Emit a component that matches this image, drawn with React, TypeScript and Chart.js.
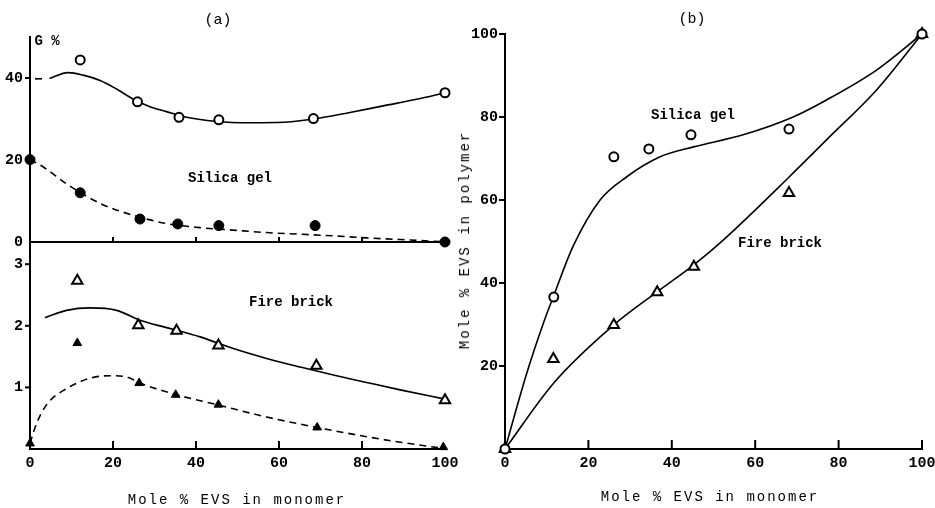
import React, { useEffect, useRef } from "react";
import { Chart, registerables } from "chart.js";
Chart.register(...registerables);

const W = 935;
const H = 508;
const FONT = "'Liberation Mono', 'DejaVu Sans Mono', 'Courier New', monospace";

// ---------- Panel (a), upper: Silica gel (G %) ----------
const aSilicaOpenX = [12.1, 25.9, 35.9, 45.5, 68.3, 100];
const aSilicaOpenY = [44.4, 34.2, 30.4, 29.8, 30.1, 36.4];
const aSilicaFilledX = [0, 12.1, 26.5, 35.6, 45.5, 68.7, 100];
const aSilicaFilledY = [20.1, 12.0, 5.6, 4.4, 4.0, 4.0, 0];
const aSilicaSolidX = [4.7, 9.2, 12.8, 16.9, 20.9, 24.9, 28.9, 32.9, 36.9, 45, 53, 61, 68.3, 77.1, 85.1, 93.2, 100];
const aSilicaSolidY = [39.9, 41.3, 40.7, 39.4, 37.3, 34.8, 33.0, 31.8, 30.6, 29.4, 29.1, 29.2, 30.0, 31.6, 33.2, 34.8, 36.4];
const aSilicaStubX = [1.2, 2.9];
const aSilicaStubY = [39.8, 39.8];
const aSilicaDashX = [0, 3.2, 8.8, 16.9, 24.9, 32.9, 41, 48.9, 57, 65, 73.1, 81.1, 89.2, 97.2, 100];
const aSilicaDashY = [20.1, 18.3, 14.2, 9.4, 6.5, 4.5, 3.5, 2.9, 2.3, 1.9, 1.5, 1.0, 0.6, 0.2, 0.1];
const aUpperYTicks = [0, 20, 40];
const aUpperXMarks = [20, 40, 60, 80];

// ---------- Panel (a), lower: Fire brick ----------
const aBrickOpenX = [11.4, 26.1, 35.3, 45.4, 69.0, 100];
const aBrickOpenY = [2.73, 2.01, 1.92, 1.68, 1.35, 0.79];
const aBrickFilledX = [0, 11.4, 26.3, 35.1, 45.4, 69.2, 99.6];
const aBrickFilledY = [0.09, 1.72, 1.07, 0.88, 0.72, 0.35, 0.03];
const aBrickSolidX = [3.6, 8.8, 14.5, 20.9, 26.5, 32.9, 41, 49, 57, 65.1, 73.1, 81.1, 89.2, 100];
const aBrickSolidY = [2.13, 2.25, 2.29, 2.25, 2.09, 1.97, 1.82, 1.63, 1.47, 1.33, 1.2, 1.08, 0.96, 0.81];
const aBrickDashX = [0, 1.5, 4, 8.8, 14.5, 19.3, 23.3, 26.5, 35.3, 45, 57, 69.1, 81.1, 89.2, 99.6];
const aBrickDashY = [0.09, 0.4, 0.72, 0.98, 1.15, 1.19, 1.17, 1.07, 0.88, 0.72, 0.52, 0.35, 0.2, 0.11, 0.01];
const aLowerYTicks = [1, 2, 3];
const aLowerXTicks = [0, 20, 40, 60, 80, 100];
const aLowerXMarks = [20, 40, 60, 80];

// ---------- Panel (b) ----------
const bSilicaX = [0, 11.7, 26.1, 34.5, 44.6, 68.1, 100];
const bSilicaY = [0, 36.6, 70.4, 72.3, 75.7, 77.1, 100];
const bBrickX = [0, 11.6, 26.1, 36.5, 45.3, 68.1, 100];
const bBrickY = [0, 21.7, 29.9, 37.8, 43.9, 61.7, 100];
const bSilicaCurveX = [0, 5.2, 9.2, 11.7, 16.4, 22.8, 29.2, 37.2, 45.2, 57.1, 69.1, 77.1, 89.1, 100];
const bSilicaCurveY = [0, 18.2, 30.3, 37, 49, 60, 65.6, 70.4, 72.8, 75.7, 80, 84.1, 91.3, 100];
const bBrickCurveX = [0, 11.6, 26.1, 36.4, 45.2, 52.4, 68.2, 77.1, 89.1, 100];
const bBrickCurveY = [0, 15.8, 29.9, 37.8, 44.3, 50.4, 65.6, 74.5, 86.5, 100];
const bYTicks = [20, 40, 60, 80, 100];
const bXTicks = [0, 20, 40, 60, 80, 100];
const bXMarks = [20, 40, 60, 80, 100];

const pts = (xs: number[], ys: number[]) => xs.map((x, i) => ({ x, y: ys[i] }));

const markers = (xs: number[], ys: number[], style: string, filled: boolean, r: number) => ({
  data: pts(xs, ys),
  showLine: false,
  pointStyle: style,
  pointRadius: r,
  pointHoverRadius: r,
  pointBackgroundColor: filled ? "#000" : "#fff",
  pointBorderColor: "#000",
  pointBorderWidth: filled ? 1 : 2,
  clip: false,
  order: 0,
});

const curve = (xs: number[], ys: number[], dashed: boolean) => ({
  data: pts(xs, ys),
  showLine: true,
  pointRadius: 0,
  pointHitRadius: 0,
  borderColor: "#000",
  borderWidth: 1.6,
  borderDash: dashed ? [7, 5] : [],
  cubicInterpolationMode: "monotone",
  fill: false,
  clip: false,
  order: 1,
});

const tickMarkPlugin = {
  id: "tickMarks",
  afterDatasetsDraw(chart: any, _args: any, opts: any) {
    const { ctx, chartArea, scales } = chart;
    ctx.save();
    ctx.strokeStyle = "#000";
    ctx.lineWidth = 2;
    (opts.x || []).forEach((v: number) => {
      const px = scales.x.getPixelForValue(v);
      ctx.beginPath();
      ctx.moveTo(px, chartArea.bottom);
      ctx.lineTo(px, chartArea.bottom - opts.xLen);
      ctx.stroke();
    });
    (opts.y || []).forEach((v: number) => {
      const py = scales.y.getPixelForValue(v);
      ctx.beginPath();
      ctx.moveTo(chartArea.left, py);
      ctx.lineTo(chartArea.left - opts.yLen, py);
      ctx.stroke();
    });
    ctx.restore();
  },
};

type Cfg = {
  datasets: any[];
  padding: { left: number; top: number; right: number; bottom: number };
  yWidth: number;
  xHeight: number;
  xMin: number; xMax: number; yMin: number; yMax: number;
  yTicks: number[];
  xTicks: number[] | null;
  xMarks: number[]; xLen: number;
  yMarks: number[]; yLen: number;
};

function makeConfig(c: Cfg): any {
  const tickFont = { family: FONT, size: 15, weight: "bold" as const };
  return {
    type: "scatter",
    data: { datasets: c.datasets },
    plugins: [tickMarkPlugin],
    options: {
      responsive: false,
      animation: false,
      events: [],
      layout: { padding: c.padding },
      plugins: {
        legend: { display: false },
        tooltip: { enabled: false },
        tickMarks: { x: c.xMarks, xLen: c.xLen, y: c.yMarks, yLen: c.yLen },
      },
      scales: {
        x: {
          type: "linear",
          min: c.xMin,
          max: c.xMax,
          grid: { display: false, drawTicks: false },
          border: { display: true, color: "#000", width: 2 },
          ticks: {
            display: !!c.xTicks,
            font: tickFont,
            color: "#000",
            padding: 5,
            maxRotation: 0,
          },
          afterBuildTicks: (s: any) => {
            s.ticks = (c.xTicks || []).map((v) => ({ value: v }));
          },
          afterFit: (s: any) => {
            s.height = c.xHeight;
            s.paddingLeft = 0;
            s.paddingRight = 0;
          },
        },
        y: {
          type: "linear",
          min: c.yMin,
          max: c.yMax,
          grid: { display: false, drawTicks: false },
          border: { display: true, color: "#000", width: 2 },
          ticks: { font: tickFont, color: "#000", padding: 7 },
          afterBuildTicks: (s: any) => {
            s.ticks = c.yTicks.map((v) => ({ value: v }));
          },
          afterFit: (s: any) => {
            s.width = c.yWidth;
            s.paddingTop = 0;
            s.paddingBottom = 0;
          },
        },
      },
    },
  };
}

function ChartCanvas({ cfg }: { cfg: Cfg }) {
  const ref = useRef<HTMLCanvasElement | null>(null);
  useEffect(() => {
    if (!ref.current) return;
    const chart = new Chart(ref.current, makeConfig(cfg));
    return () => chart.destroy();
  }, []);
  return (
    <canvas
      ref={ref}
      width={W}
      height={H}
      style={{ position: "absolute", left: 0, top: 0, width: W, height: H }}
    />
  );
}

function Label(p: { x: number; y: number; text: string; size: number; bold?: boolean; spacing?: number; rotate?: boolean }) {
  return (
    <div
      style={{
        position: "absolute",
        left: p.x,
        top: p.y,
        transform: `translate(-50%, -50%)${p.rotate ? " rotate(-90deg)" : ""}`,
        fontFamily: FONT,
        fontSize: p.size,
        fontWeight: p.bold ? "bold" : "normal",
        letterSpacing: p.spacing ? `${p.spacing}px` : undefined,
        whiteSpace: "nowrap",
        color: "#000",
        lineHeight: 1,
      }}
    >
      {p.text}
    </div>
  );
}

const upperCfg: Cfg = {
  datasets: [
    markers(aSilicaOpenX, aSilicaOpenY, "circle", false, 4.5),
    markers(aSilicaFilledX, aSilicaFilledY, "circle", true, 5),
    curve(aSilicaSolidX, aSilicaSolidY, false),
    curve(aSilicaStubX, aSilicaStubY, false),
    curve(aSilicaDashX, aSilicaDashY, true),
  ],
  padding: { left: 0, top: 37, right: W - 445, bottom: H - 242 },
  yWidth: 30,
  xHeight: 0,
  xMin: 0, xMax: 100, yMin: 0, yMax: 50,
  yTicks: aUpperYTicks,
  xTicks: null,
  xMarks: aUpperXMarks, xLen: 5,
  yMarks: [20, 40], yLen: 5,
};

const lowerCfg: Cfg = {
  datasets: [
    markers(aBrickOpenX, aBrickOpenY, "triangle", false, 6),
    markers(aBrickFilledX, aBrickFilledY, "triangle", true, 5),
    curve(aBrickSolidX, aBrickSolidY, false),
    curve(aBrickDashX, aBrickDashY, true),
  ],
  padding: { left: 0, top: 242, right: W - 445, bottom: 0 },
  yWidth: 30,
  xHeight: H - 449,
  xMin: 0, xMax: 100, yMin: 0, yMax: 3.36,
  yTicks: aLowerYTicks,
  xTicks: aLowerXTicks,
  xMarks: aLowerXMarks, xLen: 8,
  yMarks: aLowerYTicks, yLen: 5,
};

const bCfg: Cfg = {
  datasets: [
    markers(bSilicaX, bSilicaY, "circle", false, 4.5),
    markers(bBrickX, bBrickY, "triangle", false, 6),
    curve(bSilicaCurveX, bSilicaCurveY, false),
    curve(bBrickCurveX, bBrickCurveY, false),
  ],
  padding: { left: 455, top: 34, right: W - 922, bottom: 0 },
  yWidth: 50,
  xHeight: H - 449,
  xMin: 0, xMax: 100, yMin: 0, yMax: 100,
  yTicks: bYTicks,
  xTicks: bXTicks,
  xMarks: bXMarks, xLen: 9,
  yMarks: bYTicks, yLen: 6,
};

export default function App() {
  return (
    <div
      style={{
        position: "absolute",
        left: 0,
        top: 0,
        width: W,
        height: H,
        overflow: "hidden",
        background: "#fff",
      }}
    >
      <ChartCanvas cfg={upperCfg} />
      <ChartCanvas cfg={lowerCfg} />
      <ChartCanvas cfg={bCfg} />
      <Label x={218} y={20} text="(a)" size={15} />
      <Label x={692} y={19} text="(b)" size={15} />
      <Label x={47} y={41} text="G %" size={14} bold />
      <Label x={230} y={178} text="Silica gel" size={14} bold />
      <Label x={291} y={302} text="Fire brick" size={14} bold />
      <Label x={693} y={115} text="Silica gel" size={14} bold />
      <Label x={780} y={243} text="Fire brick" size={14} bold />
      <Label x={237} y={500} text="Mole % EVS in monomer" size={14} spacing={2} />
      <Label x={710} y={497} text="Mole % EVS in monomer" size={14} spacing={2} />
      <Label x={465} y={240} text="Mole % EVS in polymer" size={14} spacing={2} rotate />
    </div>
  );
}
